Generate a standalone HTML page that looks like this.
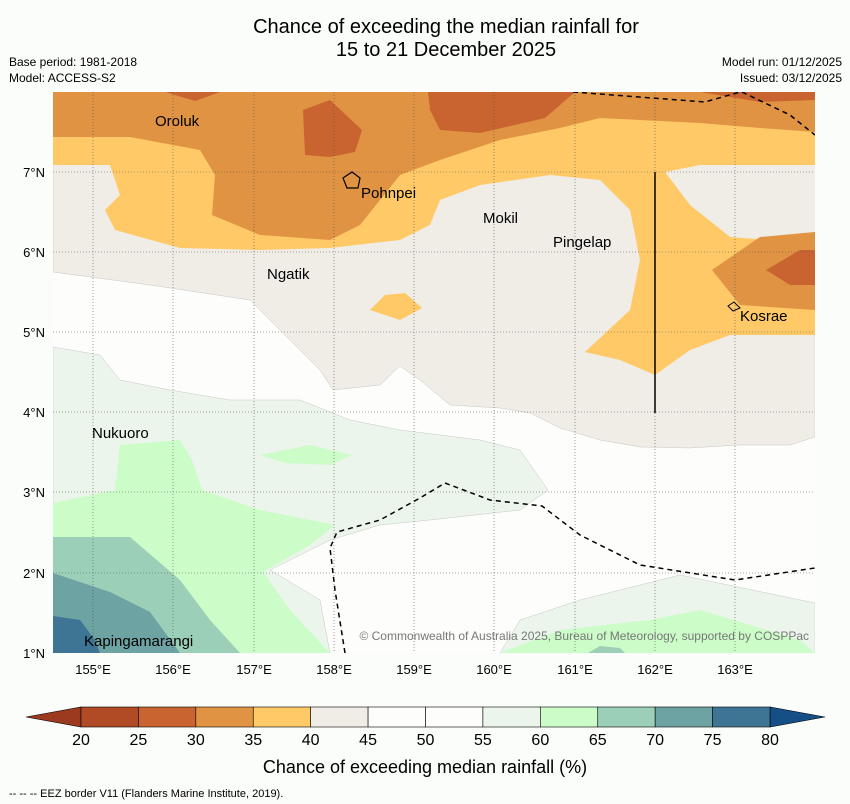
<!DOCTYPE html>
<html><head><meta charset="utf-8"><style>
body{margin:0;background:#fbfdfa;font-family:"Liberation Sans",sans-serif;}
svg{display:block}
</style></head><body>
<svg width="850" height="804" xmlns="http://www.w3.org/2000/svg">
<rect width="850" height="804" fill="#fbfdfa"/>
<text x="446" y="33" font-size="20" text-anchor="middle">Chance of exceeding the median rainfall for</text>
<text x="446" y="56" font-size="20" text-anchor="middle">15 to 21 December 2025</text>
<text x="9" y="66" font-size="12">Base period: 1981-2018</text>
<text x="9" y="82" font-size="12">Model: ACCESS-S2</text>
<text x="842" y="66" font-size="12" text-anchor="end">Model run: 01/12/2025</text>
<text x="842" y="82" font-size="12" text-anchor="end">Issued: 03/12/2025</text>
<defs><clipPath id="mc"><rect x="53" y="92" width="762" height="561"/></clipPath></defs>
<g clip-path="url(#mc)">
<rect x="53" y="92" width="762" height="561" fill="#fdfdfb"/>
<path fill="#f0ece6" stroke="#bbb" stroke-width="0.4" d="M53,92 L815,92 L815,437 L790,445 L740,445 L690,448 L640,447 L600,440 L560,428 L530,413 L500,408 L450,405 L420,380 L400,366 L380,385 L333,390 L320,370 L250,300 L150,285 L53,272 Z"/>
<path fill="#fec966" d="M53,92 L815,92 L815,335 L730,335 L690,350 L655,375 L620,360 L585,352 L630,310 L640,260 L630,210 L600,180 L550,175 L480,185 L440,200 L430,225 L400,240 L330,248 L260,250 L180,248 L115,230 L105,210 L120,195 L110,165 L53,165 Z"/>
<path fill="#f0ece6" d="M665,172 L700,165 L815,165 L815,232 L770,240 L730,237 L690,205 Z"/>
<path fill="#fec966" d="M370,310 L385,295 L405,293 L422,308 L400,320 Z"/>
<path fill="#e09343" d="M53,92 L815,92 L815,132 L760,128 L700,123 L600,118 L560,128 L500,140 L440,160 L400,175 L380,200 L360,225 L330,240 L260,235 L212,215 L215,175 L200,150 L130,137 L53,137 Z"/>
<path fill="#e09343" d="M712,270 L760,237 L815,232 L815,310 L740,305 Z"/>
<path fill="#c96430" d="M165,92 L220,92 L195,101 Z M303,110 L330,100 L362,130 L355,152 L330,157 L305,155 Z M428,92 L575,92 L545,118 L480,133 L440,130 L430,110 Z M700,92 L815,92 L815,100 L760,102 Z M766,270 L800,250 L815,250 L815,285 L790,285 Z"/>
<path fill="#ebf5eb" stroke="#bbb" stroke-width="0.4" d="M53,347 L100,355 L120,380 L170,390 L230,400 L300,400 L350,420 L400,430 L480,440 L520,450 L548,490 L520,510 L430,520 L380,525 L330,540 L270,570 L320,600 L330,653 L53,653 Z"/>
<path fill="#ccfcc8" d="M53,503 L115,490 L120,445 L180,440 L192,460 L202,490 L260,510 L335,525 L310,545 L263,572 L290,610 L330,653 L53,653 Z"/>
<path fill="#ebf5eb" d="M230,460 L260,452 L300,462 L345,465 L335,500 L300,500 L240,492 Z"/>
<path fill="#ccfcc8" d="M260,455 L310,445 L352,455 L330,465 L285,463 Z"/>
<path fill="#9ccfb8" d="M53,537 L130,537 L180,580 L210,620 L240,653 L53,653 Z"/>
<path fill="#6ea3a3" d="M53,573 L110,592 L150,612 L180,653 L53,653 Z"/>
<path fill="#3f7594" d="M53,616 L80,620 L95,640 L100,653 L53,653 Z"/>
<path fill="#ebf5eb" stroke="#bbb" stroke-width="0.4" d="M500,653 L520,620 L580,600 L680,575 L815,603 L815,653 Z"/>
<path fill="#ccfcc8" d="M500,653 L560,630 L650,620 L700,610 L800,640 L815,653 Z"/>
<path fill="#9ccfb8" d="M588,653 L600,646 L620,648 L625,653 Z"/>
<g stroke="#555" stroke-width="0.6" stroke-dasharray="1,2">
<line x1="93" y1="92" x2="93" y2="653"/><line x1="173" y1="92" x2="173" y2="653"/><line x1="254" y1="92" x2="254" y2="653"/><line x1="334" y1="92" x2="334" y2="653"/><line x1="414" y1="92" x2="414" y2="653"/><line x1="494" y1="92" x2="494" y2="653"/><line x1="575" y1="92" x2="575" y2="653"/><line x1="655" y1="92" x2="655" y2="653"/><line x1="735" y1="92" x2="735" y2="653"/>
<line x1="53" y1="172" x2="815" y2="172"/><line x1="53" y1="252" x2="815" y2="252"/><line x1="53" y1="332" x2="815" y2="332"/><line x1="53" y1="412" x2="815" y2="412"/><line x1="53" y1="492" x2="815" y2="492"/><line x1="53" y1="573" x2="815" y2="573"/>
</g>
<g fill="none" stroke="#000" stroke-width="1.5" stroke-dasharray="5,4">
<path d="M573,92 L705,102 L740,92 M742,92 L790,115 L815,135"/>
<path d="M345,653 L335,590 L330,548 L337,532 L380,520 L420,498 L445,483 L490,500 L542,506 L580,535 L640,565 L735,580 L815,568"/>
</g>
<line x1="655" y1="172" x2="655" y2="413" stroke="#000" stroke-width="1.5"/>
<path d="M343,178 L352,172 L360,178 L358,188 L347,188 Z" fill="none" stroke="#000" stroke-width="1.2"/>
<path d="M728,306 L734,302 L740,308 L733,311 Z" fill="none" stroke="#000"/>
<g font-size="15" fill="#000">
<text x="155" y="126">Oroluk</text><text x="361" y="198">Pohnpei</text><text x="483" y="223">Mokil</text><text x="553" y="247">Pingelap</text><text x="267" y="279">Ngatik</text><text x="740" y="321">Kosrae</text><text x="92" y="438">Nukuoro</text><text x="84" y="646">Kapingamarangi</text>
</g>
<text x="809" y="640" font-size="12" fill="#777" text-anchor="end">© Commonwealth of Australia 2025, Bureau of Meteorology, supported by COSPPac</text>
</g>
<g font-size="13" text-anchor="end">
<text x="45" y="177">7°N</text><text x="45" y="257">6°N</text><text x="45" y="337">5°N</text><text x="45" y="417">4°N</text><text x="45" y="497">3°N</text><text x="45" y="578">2°N</text><text x="45" y="658">1°N</text>
</g>
<g font-size="13" text-anchor="middle">
<text x="93" y="674">155°E</text><text x="173" y="674">156°E</text><text x="254" y="674">157°E</text><text x="334" y="674">158°E</text><text x="414" y="674">159°E</text><text x="494" y="674">160°E</text><text x="575" y="674">161°E</text><text x="655" y="674">162°E</text><text x="735" y="674">163°E</text>
</g>
<g id="cbar"></g>
<text x="425" y="773" font-size="18" text-anchor="middle">Chance of exceeding median rainfall (%)</text>
<text x="9" y="797" font-size="11">--  --  -- EEZ border V11 (Flanders Marine Institute, 2019).</text>
</svg>
<script>
const binColors=["#b04b26","#c96430","#e09343","#fec966","#f0ece6","#fdfdfb","#fdfdfb","#ebf5eb","#ccfcc8","#9ccfb8","#6ea3a3","#3f7594"];
const tickLabels=[20,25,30,35,40,45,50,55,60,65,70,75,80];
const NS="http://www.w3.org/2000/svg";
const g=document.getElementById("cbar");
const x0=81,x1=770,y0=707,y1=727;
const xs=v=>x0+(v-tickLabels[0])/(tickLabels[tickLabels.length-1]-tickLabels[0])*(x1-x0);
function mk(t,a){const e=document.createElementNS(NS,t);for(const k in a)e.setAttribute(k,a[k]);g.appendChild(e);return e;}
let l=mk("polygon",{points:`26,717 ${x0},${y0} ${x0},${y1}`,fill:"#9b3a1f",stroke:"#000","stroke-width":0.6});


let r=mk("polygon",{points:`825,717 ${x1},${y0} ${x1},${y1}`,fill:"#154f86",stroke:"#000","stroke-width":0.6});


binColors.forEach((c,i)=>{
 const a=xs(tickLabels[i]),b=xs(tickLabels[i+1]);
 const e=mk("rect",{x:a,y:y0,width:b-a,height:y1-y0,fill:c,stroke:"#000","stroke-width":0.6});
 
 
});
tickLabels.forEach(v=>{
 const t=mk("text",{x:xs(v),y:745,"font-size":16,"text-anchor":"middle"});
 t.textContent=v;
 
 
});
</script>
</body></html>
